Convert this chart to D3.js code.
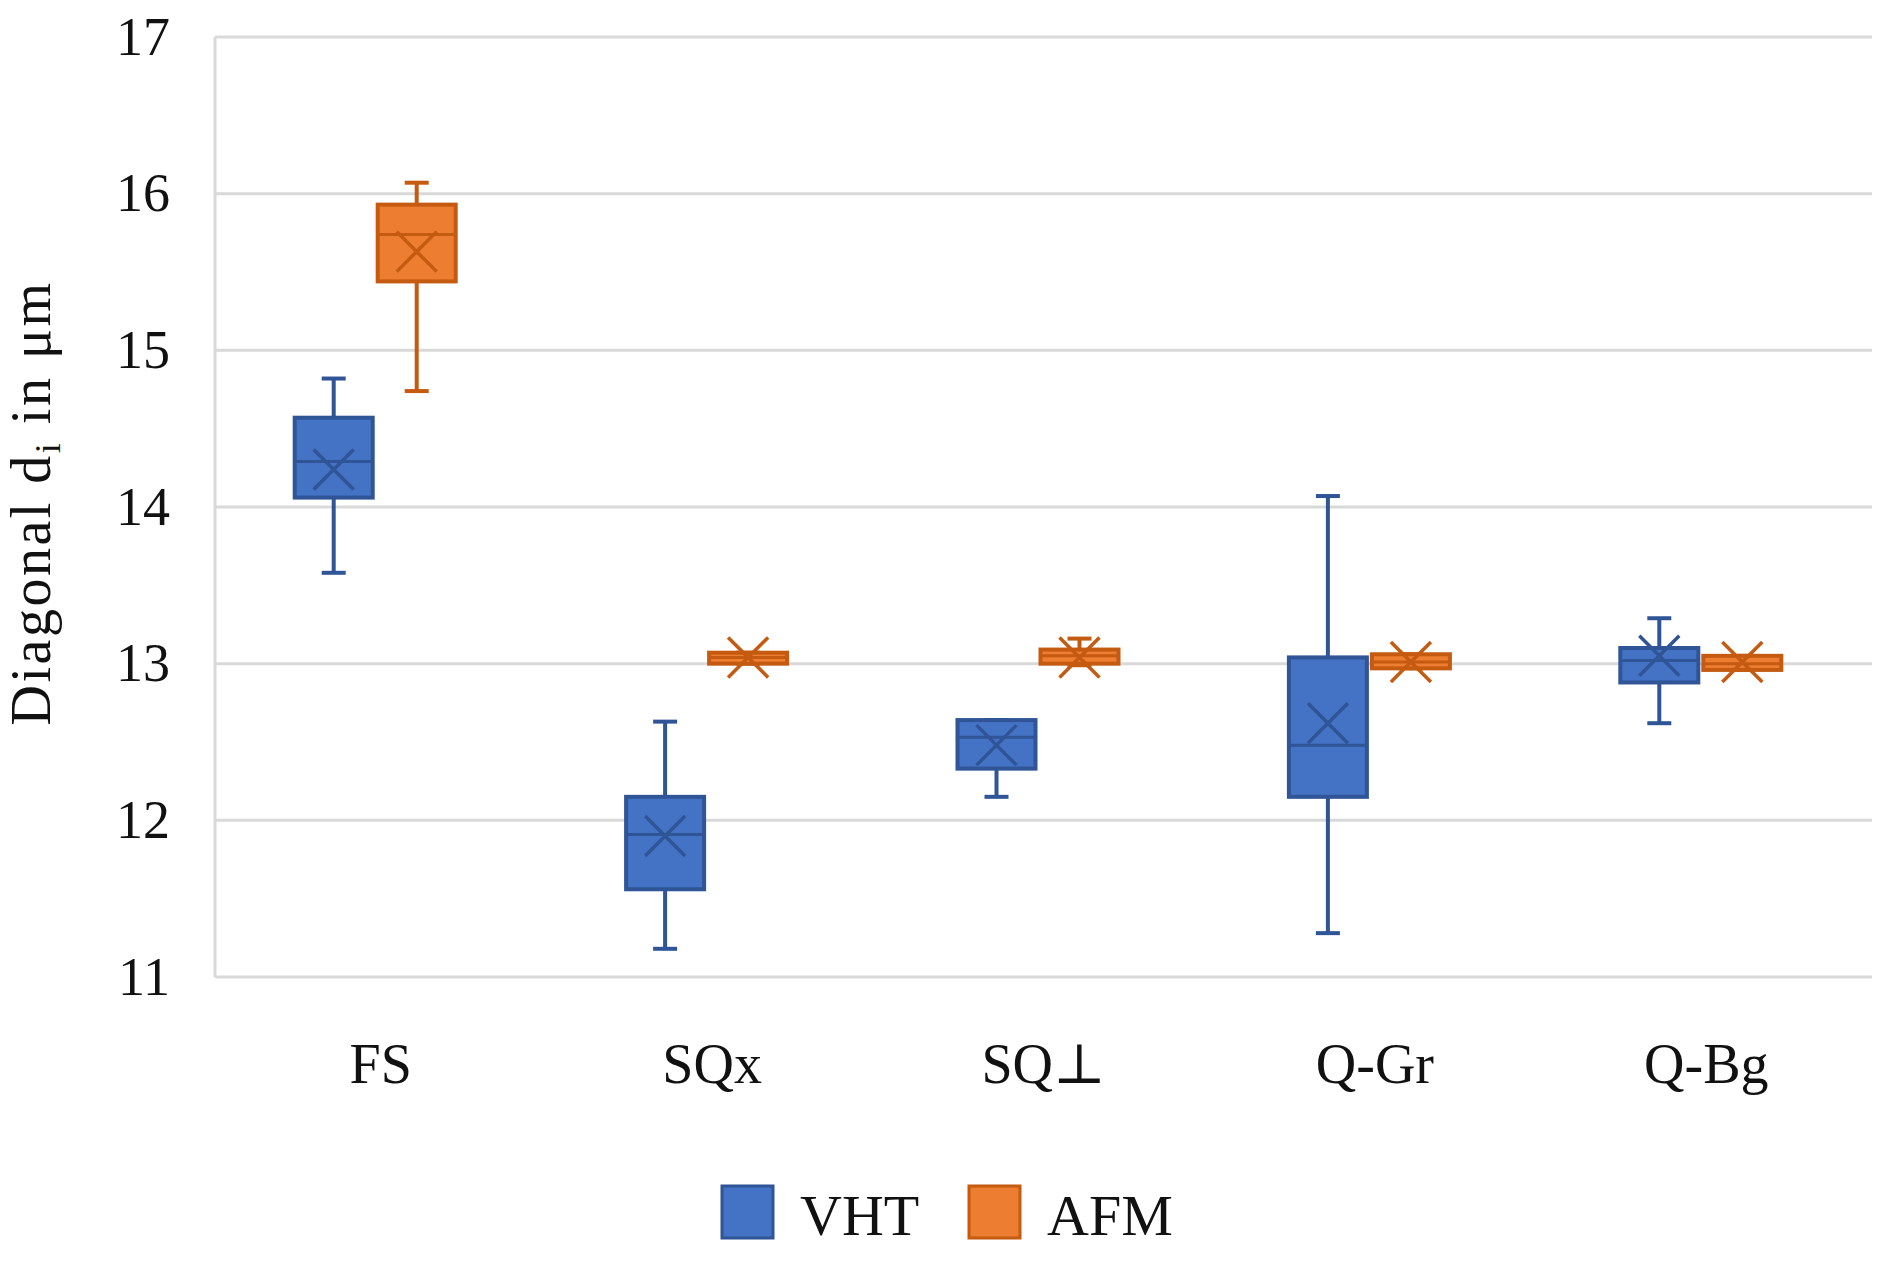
<!DOCTYPE html>
<html>
<head>
<meta charset="utf-8">
<script src="https://cdn.jsdelivr.net/npm/d3@7"></script>
<style>
  body { margin: 0; background: #fff; }
  text { font-family: "Liberation Serif", "DejaVu Serif", serif; fill: #111; }
</style>
</head>
<body>
<div id="chart"></div>
<script>
// categories and series
var categories = ['FS', 'SQx', 'SQ\u22A5', 'Q-Gr', 'Q-Bg'];
var seriesNames = ['VHT', 'AFM'];
var yTicks = [11, 12, 13, 14, 15, 16, 17];

var vhtMin    = [13.58, 11.18, 12.15, 11.28, 12.62];
var vhtQ1     = [14.06, 11.56, 12.33, 12.15, 12.88];
var vhtMedian = [14.29, 11.91, 12.53, 12.48, 13.02];
var vhtQ3     = [14.57, 12.15, 12.64, 13.04, 13.10];
var vhtMax    = [14.82, 12.63, 12.64, 14.07, 13.29];
var vhtMean   = [14.24, 11.90, 12.48, 12.62, 13.05];

var afmMin    = [14.74, 13.00, 12.99, 12.97, 12.96];
var afmQ1     = [15.44, 13.00, 13.00, 12.97, 12.96];
var afmMedian = [15.74, 13.04, 13.05, 13.01, 13.00];
var afmQ3     = [15.93, 13.07, 13.09, 13.06, 13.05];
var afmMax    = [16.07, 13.07, 13.16, 13.06, 13.05];
var afmMean   = [15.63, 13.04, 13.04, 13.01, 13.01];

var W = 1895, H = 1264;
// plot area edges (note: "top" is a reserved global in browsers)
var plotLeft = 215, plotRight = 1872, plotTop = 37, plotBottom = 977;

var svg = d3.select('#chart').append('svg')
  .attr('width', W)
  .attr('height', H);

var x = d3.scaleBand().domain(categories).range([plotLeft, plotRight]);
var y = d3.scaleLinear().domain([11, 17]).range([plotBottom, plotTop]);

// gridlines
svg.append('g').selectAll('line').data(yTicks)
  .enter().append('line')
  .attr('x1', plotLeft).attr('x2', plotRight)
  .attr('y1', function (d) { return y(d); })
  .attr('y2', function (d) { return y(d); })
  .attr('stroke', '#d9d9d9')
  .attr('stroke-width', 3);

svg.append('line')
  .attr('x1', plotLeft).attr('x2', plotLeft)
  .attr('y1', y(17)).attr('y2', y(11))
  .attr('stroke', '#d9d9d9')
  .attr('stroke-width', 3);

// y axis labels
var yAxis = d3.axisLeft(y).tickValues(yTicks).tickFormat(d3.format('d')).tickSize(0).tickPadding(45);
var gy = svg.append('g').attr('transform', 'translate(' + plotLeft + ',0)').call(yAxis);
gy.select('.domain').remove();
gy.selectAll('text')
  .attr('font-size', 54)
  .attr('font-family', '"Liberation Serif", "DejaVu Serif", serif')
  .attr('fill', '#111');

// x axis labels
var xAxis = d3.axisBottom(x).tickSize(0).tickPadding(0);
var gx = svg.append('g').attr('transform', 'translate(0,' + 1083 + ')').call(xAxis);
gx.select('.domain').remove();
gx.selectAll('text')
  .attr('dy', 0)
  .attr('font-size', 56)
  .attr('font-family', '"Liberation Serif", "DejaVu Serif", serif')
  .attr('fill', '#111');

// box data
function rows(mins, q1s, meds, q3s, maxs, means) {
  return categories.map(function (c, i) {
    return { cat: c, min: mins[i], q1: q1s[i], med: meds[i], q3: q3s[i], max: maxs[i], mean: means[i] };
  });
}
var series = [
  { name: 'VHT', fill: '#4472c4', stroke: '#2f5597', off: -47, data: rows(vhtMin, vhtQ1, vhtMedian, vhtQ3, vhtMax, vhtMean) },
  { name: 'AFM', fill: '#ed7d31', stroke: '#c55a11', off: 36, data: rows(afmMin, afmQ1, afmMedian, afmQ3, afmMax, afmMean) }
];

var boxW = 78, capW = 24, mk = 20;

series.forEach(function (s) {
  var g = svg.append('g');
  var cx = function (d) { return x(d.cat) + x.bandwidth() / 2 + s.off; };

  // whiskers
  g.selectAll('.wl').data(s.data).enter().append('line')
    .attr('x1', cx).attr('x2', cx)
    .attr('y1', function (d) { return y(d.max); })
    .attr('y2', function (d) { return y(d.min); })
    .attr('stroke', s.stroke).attr('stroke-width', 4);
  g.selectAll('.cmax').data(s.data).enter().append('line')
    .attr('x1', function (d) { return cx(d) - capW / 2; })
    .attr('x2', function (d) { return cx(d) + capW / 2; })
    .attr('y1', function (d) { return y(d.max); })
    .attr('y2', function (d) { return y(d.max); })
    .attr('stroke', s.stroke).attr('stroke-width', 4);
  g.selectAll('.cmin').data(s.data).enter().append('line')
    .attr('x1', function (d) { return cx(d) - capW / 2; })
    .attr('x2', function (d) { return cx(d) + capW / 2; })
    .attr('y1', function (d) { return y(d.min); })
    .attr('y2', function (d) { return y(d.min); })
    .attr('stroke', s.stroke).attr('stroke-width', 4);

  // boxes
  g.selectAll('rect').data(s.data).enter().append('rect')
    .attr('x', function (d) { return cx(d) - boxW / 2; })
    .attr('y', function (d) { return y(d.q3); })
    .attr('width', boxW)
    .attr('height', function (d) { return Math.max(y(d.q1) - y(d.q3), 2); })
    .attr('fill', s.fill)
    .attr('stroke', s.stroke)
    .attr('stroke-width', 4);

  // median
  g.selectAll('.med').data(s.data).enter().append('line')
    .attr('x1', function (d) { return cx(d) - boxW / 2; })
    .attr('x2', function (d) { return cx(d) + boxW / 2; })
    .attr('y1', function (d) { return y(d.med); })
    .attr('y2', function (d) { return y(d.med); })
    .attr('stroke', s.stroke).attr('stroke-width', 3);

  // mean marker (x)
  g.selectAll('.mean').data(s.data).enter().append('path')
    .attr('d', function (d) {
      var px = cx(d), py = y(d.mean);
      return 'M' + (px - mk) + ',' + (py - mk) + 'L' + (px + mk) + ',' + (py + mk) +
             'M' + (px - mk) + ',' + (py + mk) + 'L' + (px + mk) + ',' + (py - mk);
    })
    .attr('stroke', s.stroke).attr('stroke-width', 3.5).attr('fill', 'none');
});

// y axis title
var title = svg.append('text')
  .attr('transform', 'translate(50,503) rotate(-90)')
  .attr('text-anchor', 'middle')
  .attr('font-size', 56)
  .attr('letter-spacing', 2.5);
title.append('tspan').text('Diagonal d');
title.append('tspan').attr('font-size', 36).attr('dy', 10).text('i');
title.append('tspan').attr('dy', -10).text(' in \u03BCm');

// legend
var legX = [722, 969];
var lg = svg.append('g');
lg.selectAll('rect').data(series).enter().append('rect')
  .attr('x', function (d, i) { return legX[i]; })
  .attr('y', 1186)
  .attr('width', 51).attr('height', 52)
  .attr('fill', function (d) { return d.fill; })
  .attr('stroke', function (d) { return d.stroke; })
  .attr('stroke-width', 3);
lg.selectAll('text').data(series).enter().append('text')
  .attr('x', function (d, i) { return legX[i] + 78; })
  .attr('y', 1235)
  .attr('font-size', 58)
  .text(function (d) { return d.name; });
</script>
</body>
</html>
